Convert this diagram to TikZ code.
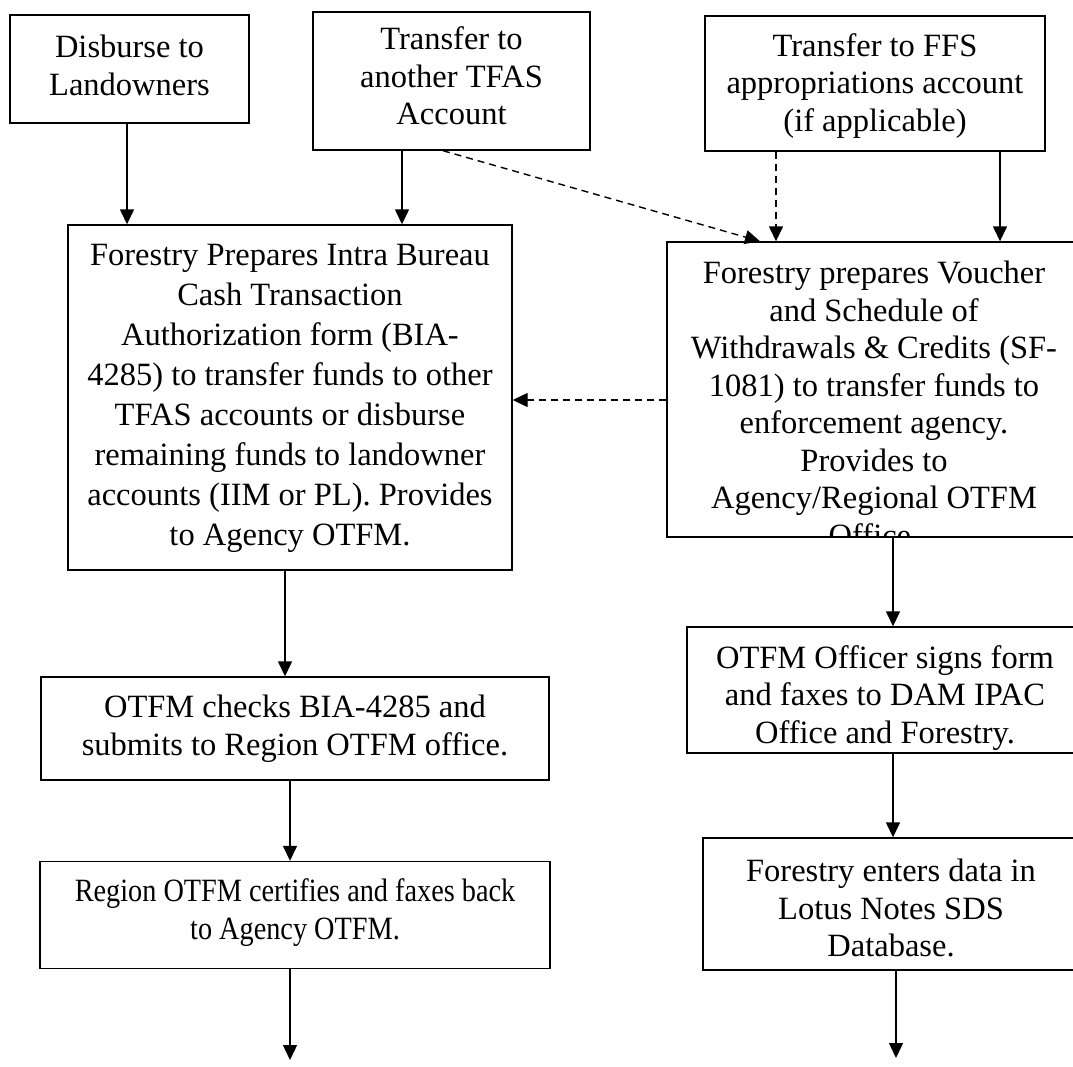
\documentclass[tikz,border=0pt]{standalone}
\usepackage{fontspec}
\setmainfont{Liberation Serif}
\usetikzlibrary{arrows.meta,positioning}

\begin{document}
\begin{tikzpicture}[x=1pt,y=-1pt,
  flowbox/.style={draw,line width=1.4pt,inner sep=0pt},
  flowtext/.style={inner sep=0pt,align=center,
    font=\fontsize{32.5}{37.5}\selectfont,execute at begin node=\strut},
  flow/.style={-{Triangle[width=14pt,length=15pt]},line width=1.4pt},
  flowdash/.style={flow,dash pattern=on 7pt off 5pt}]
  \useasboundingbox (0,0) rectangle (1073,1066);
  % sources along the top
  \node[flowbox,minimum width=239pt,minimum height=108pt] (disb) at (129.5,69) {};
  \node[flowtext,below=20.75pt of disb.north] (disbtext) {Disburse to\\Landowners};
  \node[flowbox,minimum width=277pt,minimum height=138pt] (tfas) at (451.5,81) {};
  \node[flowtext,below=15.5pt of tfas.north] (tfastext) {Transfer to\\another TFAS\\Account};
  \node[flowbox,minimum width=340pt,minimum height=135pt] (ffs) at (875,83.5) {};
  \node[flowtext,below=17.75pt of ffs.north] (ffstext) {Transfer to FFS\\appropriations account\\(if applicable)};
  % left column
  \node[flowbox,minimum width=444pt,minimum height=345pt] (intra) at (290,397.5) {};
  \node[flowtext,below=20pt of intra.north,font=\fontsize{32.5}{40}\selectfont] (intratext) {Forestry Prepares Intra Bureau\\Cash Transaction\\Authorization form (BIA-\\4285) to transfer funds to other\\TFAS accounts or disburse\\remaining funds to landowner\\accounts (IIM or PL). Provides\\to Agency OTFM.};
  \node[flowbox,minimum width=508pt,minimum height=103pt] (check) at (295,728.5) {};
  \node[flowtext,below=18.75pt of check.north] (checktext) {OTFM checks BIA-4285 and\\submits to Region OTFM office.};
  \node[flowbox,minimum width=510pt,minimum height=107pt] (certify) at (295,915) {};
  \node[flowtext,below=18pt of certify.north,font=\fontsize{32.5}{37.5}\selectfont\addfontfeature{FakeStretch=0.87}] (certifytext) {Region OTFM certifies and faxes back\\to Agency OTFM.};
  \coordinate (leftend) at (290,1060);
  % right column (text runs past the boxes, so it is clipped)
  \node[flowbox,minimum width=414pt,minimum height=295pt] (voucher) at (874,389.5) {};
  \begin{scope}
    \clip (voucher.north west) rectangle (voucher.south east);
    \node[flowtext,below=19.75pt of voucher.north] (vouchertext) {Forestry prepares Voucher\\and Schedule of\\Withdrawals \& Credits (SF-\\1081) to transfer funds to\\enforcement agency.\\Provides to\\Agency/Regional OTFM\\Office.};
  \end{scope}
  \node[flowbox,minimum width=396pt,minimum height=126pt] (signs) at (885,690) {};
  \begin{scope}
    \clip (signs.north west) rectangle (signs.south east);
    \node[flowtext,below=18.75pt of signs.north] (signstext) {OTFM Officer signs form\\and faxes to DAM IPAC\\Office and Forestry.};
  \end{scope}
  \node[flowbox,minimum width=376pt,minimum height=132pt] (enters) at (891,904) {};
  \node[flowtext,below=21.75pt of enters.north] (enterstext) {Forestry enters data in\\Lotus Notes SDS\\Database.};
  \coordinate (rightend) at (896,1058);
  % arrows
  \draw[flow] ([xshift=-2.5pt]disb.south) -- ([xshift=-2.5pt]disb.south |- intra.north);
  \draw[flow] ([xshift=-49.5pt]tfas.south) -- ([xshift=-49.5pt]tfas.south |- intra.north);
  \draw[flowdash] ([xshift=-8.5pt]tfas.south) -- ([xshift=-114pt]voucher.north);
  \draw[flowdash] ([xshift=-99pt]ffs.south) -- ([xshift=-99pt]ffs.south |- voucher.north);
  \draw[flow] ([xshift=125pt]ffs.south) -- ([xshift=125pt]ffs.south |- voucher.north);
  \draw[flowdash] (voucher.west |- 0,400) -- (intra.east |- 0,400);
  \draw[flow] ([xshift=-5pt]intra.south) -- ([xshift=-5pt]intra.south |- check.north);
  \draw[flow] ([xshift=-5pt]check.south) -- ([xshift=-5pt]check.south |- certify.north);
  \draw[flow] ([xshift=-5pt]certify.south) -- (leftend);
  \draw[flow] ([xshift=19pt]voucher.south) -- ([xshift=19pt]voucher.south |- signs.north);
  \draw[flow] ([xshift=8pt]signs.south) -- ([xshift=8pt]signs.south |- enters.north);
  \draw[flow] ([xshift=5pt]enters.south) -- (rightend);
\end{tikzpicture}
\end{document}
